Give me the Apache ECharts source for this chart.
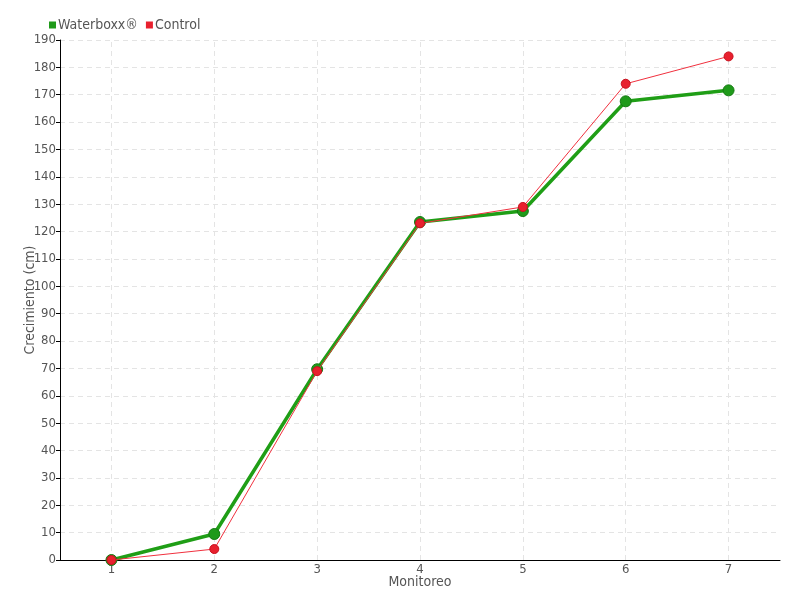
<!DOCTYPE html>
<html>
<head>
<meta charset="utf-8">
<script src="https://cdn.jsdelivr.net/npm/echarts@6/dist/echarts.min.js"></script>
<style>
  html, body { margin: 0; padding: 0; background: #fff; }
  #main { width: 800px; height: 600px; }
</style>
</head>
<body>
<div id="main"></div>
<script>
// datos
var monitoreo = ["1", "2", "3", "4", "5", "6", "7"];
var waterboxx = [0, 9.5, 69.7, 123.5, 127.5, 167.6, 171.6];
var control = [0, 4, 69, 123, 129, 174, 184];

var fuente = "'DejaVu Sans Condensed', 'Liberation Sans Narrow', sans-serif";
var gris = "#555";

var myChart = echarts.init(document.getElementById("main"));
var option = {
  animation: false,
  textStyle: { fontFamily: fuente, color: gris },
  legend: {
    left: 44,
    top: 13,
    itemWidth: 7,
    itemHeight: 7,
    itemGap: 8,
    icon: "rect",
    itemStyle: { borderWidth: 0 },
    textStyle: { fontFamily: fuente, fontSize: 14, color: gris, padding: [0, 0, 0, -3] },
    data: ["Waterboxx®", "Control"]
  },
  grid: { left: 60, right: 20, top: 40, bottom: 40 },
  xAxis: {
    type: "category",
    data: monitoreo,
    boundaryGap: true,
    name: "Monitoreo",
    nameLocation: "middle",
    nameGap: 15,
    nameMoveOverlap: false,
    nameTextStyle: { fontFamily: fuente, fontSize: 14, color: gris },
    axisLine: { lineStyle: { color: "#000", width: 1 } },
    axisTick: { alignWithLabel: true, length: 4, lineStyle: { color: "#000" } },
    axisLabel: { fontFamily: fuente, fontSize: 13, color: gris, margin: 3 },
    splitLine: { show: false }
  },
  yAxis: {
    type: "value",
    min: 0,
    max: 190,
    interval: 10,
    name: "Crecimiento (cm)",
    nameLocation: "middle",
    nameGap: 23,
    nameMoveOverlap: false,
    nameTextStyle: { fontFamily: fuente, fontSize: 14, color: gris },
    axisLine: { show: true, lineStyle: { color: "#000", width: 1 } },
    axisTick: { show: true, length: 4, lineStyle: { color: "#000" } },
    axisLabel: { fontFamily: fuente, fontSize: 13, color: gris, margin: 4 },
    splitLine: { show: true, lineStyle: { color: "#e4e4e4", type: [5, 4] } }
  },
  series: [
    {
      name: "Waterboxx®",
      type: "line",
      data: waterboxx,
      symbol: "circle",
      symbolSize: 11,
      z: 2,
      itemStyle: { color: "#1f9a1a", borderColor: "#157a12", borderWidth: 1 },
      lineStyle: { color: "#1f9e16", width: 3.5 },
      // lineas verticales de la cuadricula en cada categoria
      markLine: {
        silent: true,
        symbol: "none",
        label: { show: false },
        z: 0,
        lineStyle: { color: "#e4e4e4", type: [5, 4], width: 1 },
        data: monitoreo.map(function (m) { return { xAxis: m }; })
      }
    },
    {
      name: "Control",
      type: "line",
      data: control,
      symbol: "circle",
      symbolSize: 9,
      z: 3,
      itemStyle: { color: "#e8202e", borderColor: "#c8101e", borderWidth: 1 },
      lineStyle: { color: "#f0303e", width: 1 }
    }
  ]
};
myChart.setOption(option);
</script>
</body>
</html>
